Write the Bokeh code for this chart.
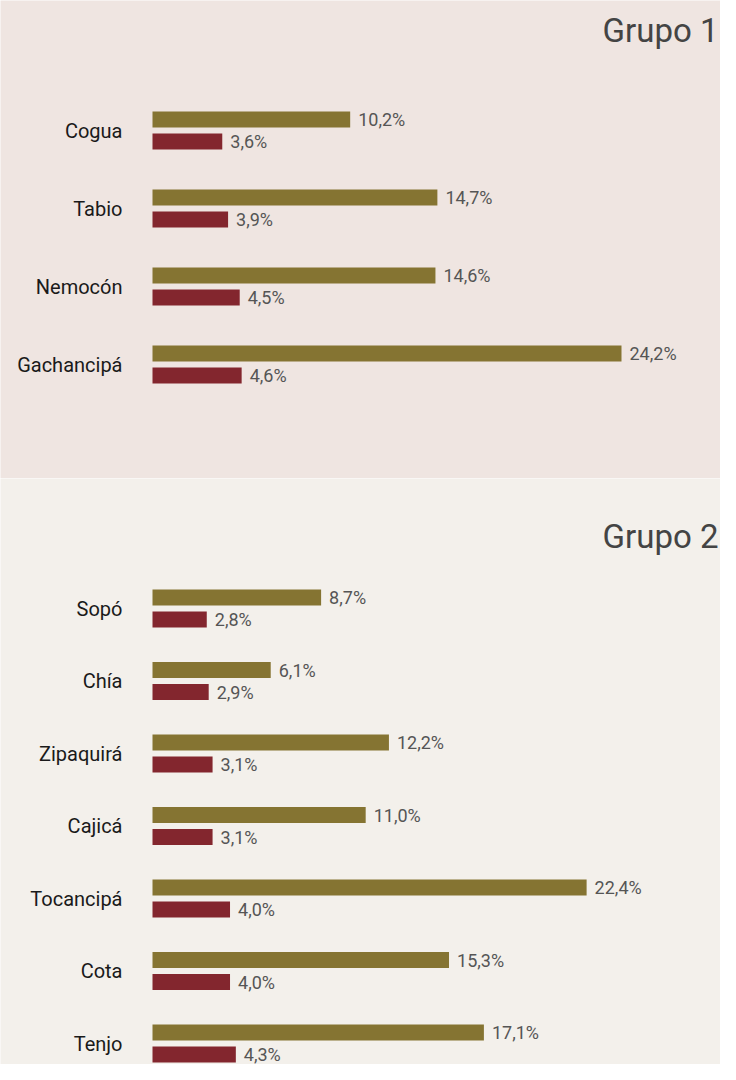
from bokeh.plotting import figure
from bokeh.models import ColumnDataSource, Range1d, Label
from bokeh.layouts import column
from bokeh.transform import dodge
from bokeh.core.properties import value
from bokeh.embed import file_html
from bokeh.resources import INLINE

# ---- data ----
g1_cats = ["Cogua", "Tabio", "Nemocón", "Gachancipá"]
g1_a = [10.2, 14.7, 14.6, 24.2]
g1_b = [3.6, 3.9, 4.5, 4.6]

g2_cats = ["Sopó", "Chía", "Zipaquirá", "Cajicá", "Tocancipá", "Cota", "Tenjo"]
g2_a = [8.7, 6.1, 12.2, 11.0, 22.4, 15.3, 17.1]
g2_b = [2.8, 2.9, 3.1, 3.1, 4.0, 4.0, 4.3]

titles = ["Grupo 1", "Grupo 2"]

GOLD = "#857432"
RED = "#83262e"
FONT = "Roboto"
W = 720
PX_PER_PCT = 19.38
ZERO_X = 152


def fmt(v):
    return f"{v:.1f}".replace(".", ",") + "%"


def make_group(cats, a, b, title, height, row0, pitch, title_y, bg):
    n = len(cats)
    src = ColumnDataSource(dict(
        y=list(range(n)), cat=cats, a=a, b=b,
        a_lbl=[fmt(v) for v in a], b_lbl=[fmt(v) for v in b],
    ))
    x_range = Range1d(-ZERO_X / PX_PER_PCT, (W - ZERO_X) / PX_PER_PCT)
    y_range = Range1d((height - row0) / pitch, -row0 / pitch)
    p = figure(width=W, height=height, x_range=x_range, y_range=y_range,
               output_backend="svg", toolbar_location=None, min_border=0)
    p.axis.visible = False
    p.grid.visible = False
    p.outline_line_color = None
    p.background_fill_color = bg
    p.border_fill_color = bg

    off = 11 / pitch
    bh = 16 / pitch
    ya = dodge("y", -off, range=p.y_range)
    yb = dodge("y", off, range=p.y_range)
    p.hbar(y=ya, left=0, right="a", height=bh, source=src,
           fill_color=GOLD, line_color=None)
    p.hbar(y=yb, left=0, right="b", height=bh, source=src,
           fill_color=RED, line_color=None)
    p.text(x="a", y=ya, text="a_lbl", source=src, x_offset=8,
           text_baseline="middle", text_align="left",
           text_font=value(FONT), text_font_size="18px", text_color="#555555")
    p.text(x="b", y=yb, text="b_lbl", source=src, x_offset=8,
           text_baseline="middle", text_align="left",
           text_font=value(FONT), text_font_size="18px", text_color="#555555")
    p.text(x=0, y="y", text="cat", source=src, x_offset=-30,
           text_baseline="middle", text_align="right",
           text_font=value(FONT), text_font_size="20px", text_color="#1a1a1a")
    p.add_layout(Label(x=W - 2, y=height - title_y, x_units="screen",
                       y_units="screen", text=title, text_align="right",
                       text_baseline="middle", text_font=FONT,
                       text_font_size="33px", text_color="#444444"))
    return p


p1 = make_group(g1_cats, g1_a, g1_b, titles[0], 478, 130, 78, 30, "#efe5e1")
p2 = make_group(g2_cats, g2_a, g2_b, titles[1], 586, 130, 72.5, 58, "#f3f0eb")

layout = column(p1, p2, spacing=0)
open("out.html", "w").write(file_html(layout, INLINE))
